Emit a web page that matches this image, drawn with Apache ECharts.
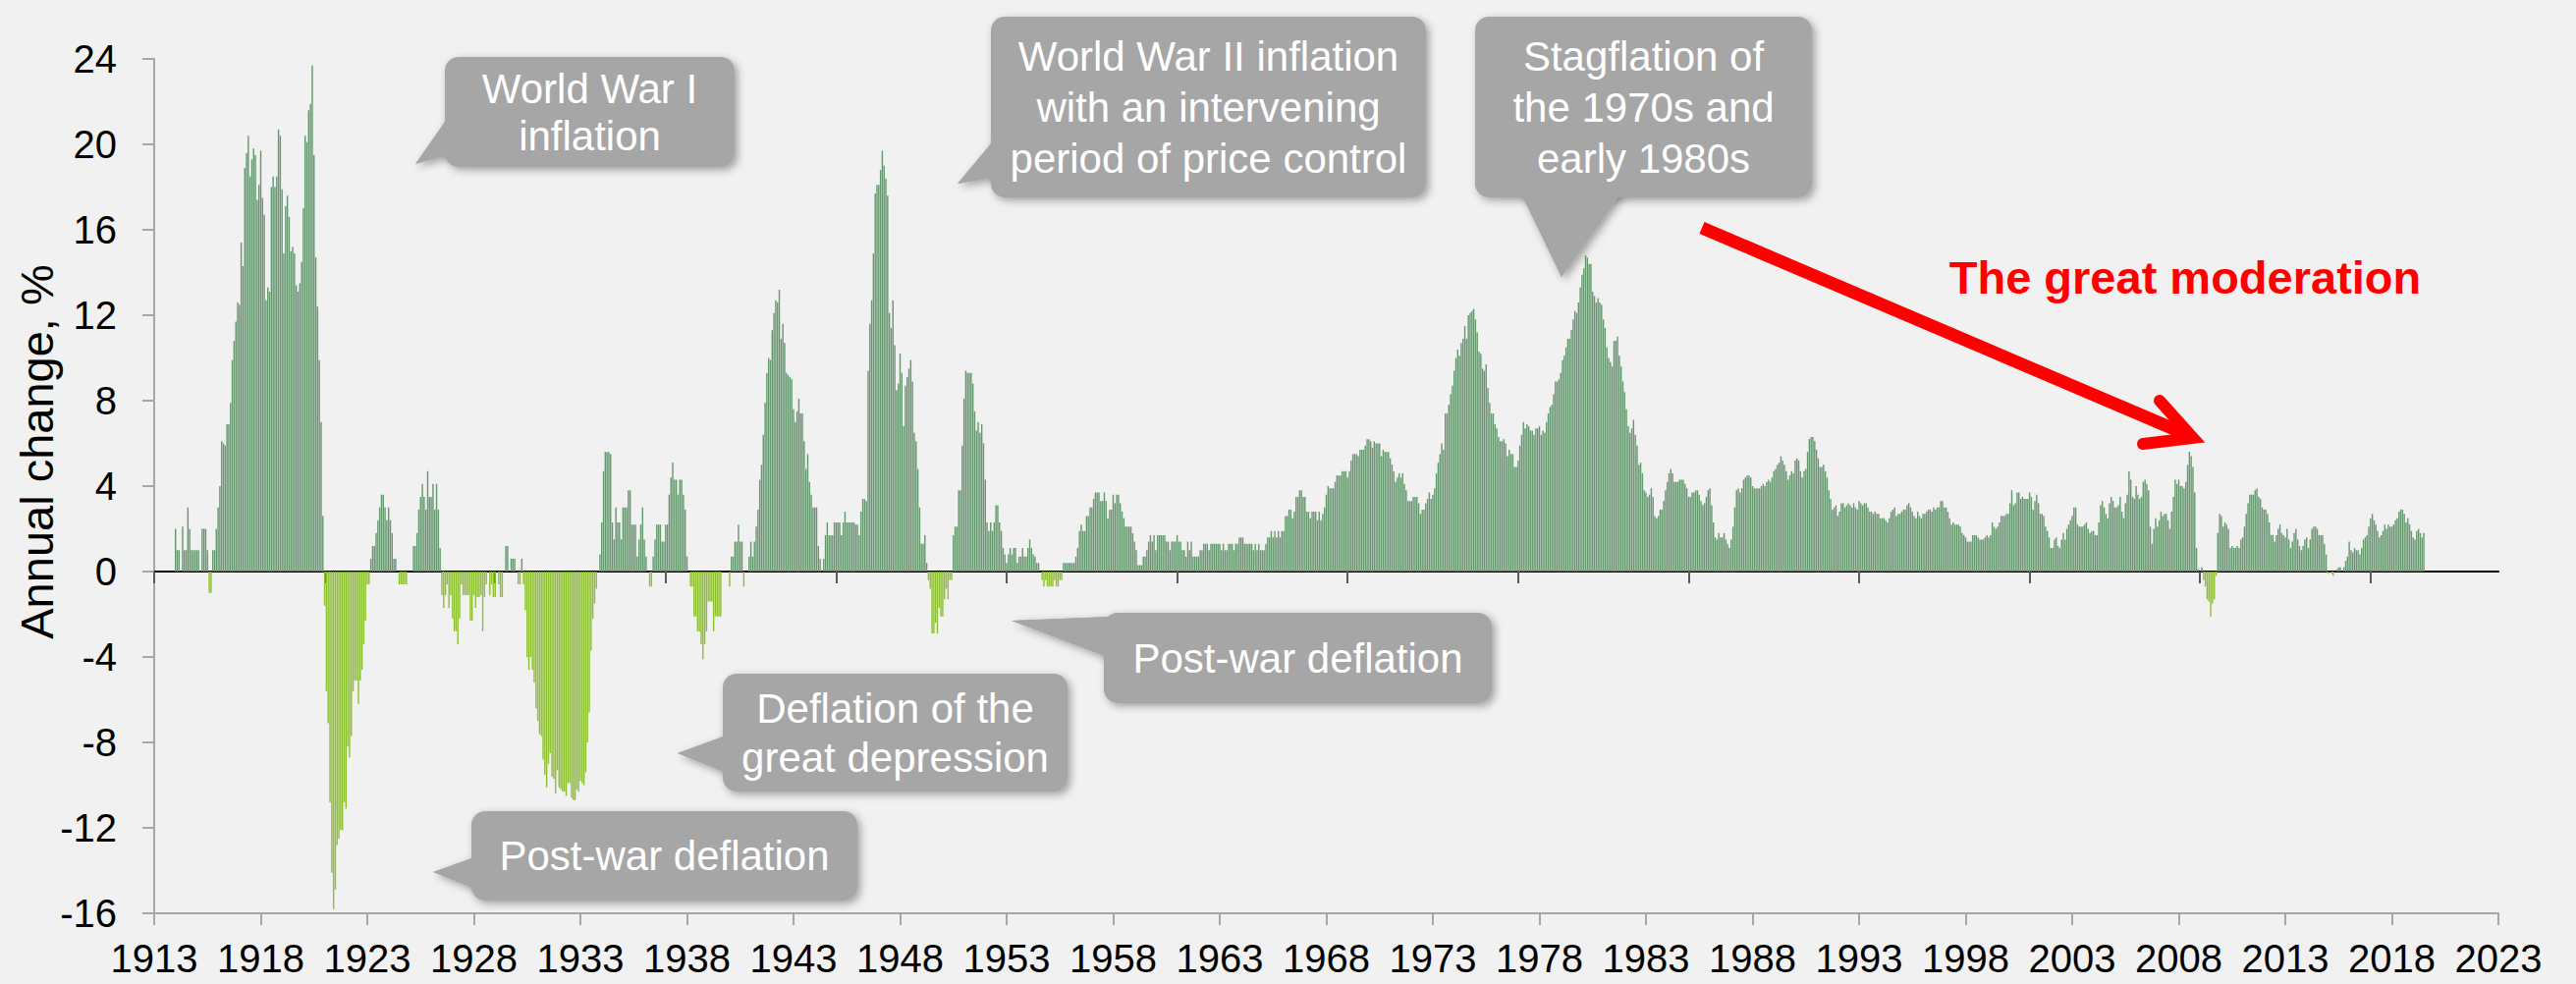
<!DOCTYPE html>
<html>
<head>
<meta charset="utf-8">
<script src="https://cdn.jsdelivr.net/npm/echarts@6/dist/echarts.min.js"></script>
<style>
html,body{margin:0;padding:0;background:#f1f1f1;}
#chart{width:2623px;height:1002px;}
</style>
</head>
<body>
<div id="chart"></div>
<script>
// US CPI, annual % change, monthly observations (Jan 1914 - Jul 2019)
const firstYear = 1914;
const inflation1910s = [
 2.0,1.0,1.0,0.0,2.1,1.0,1.0,3.0,2.0,1.0,1.0,1.0,
 1.0,1.0,0.0,2.0,2.0,2.0,1.0,-1.0,-1.0,1.0,1.0,2.0,
 3.0,4.0,6.1,6.0,5.9,6.9,6.9,7.9,9.9,10.8,11.7,12.6,
 12.5,15.4,14.3,18.9,19.6,20.4,18.5,19.3,19.8,19.5,17.4,18.1,
 19.7,17.5,16.7,12.7,13.3,13.1,18.0,18.5,18.0,18.5,20.7,20.4,
 17.9,14.9,17.1,17.6,16.6,15.0,15.2,14.9,13.4,13.1,13.5,14.5];
const inflation1920s = [
 17.0,20.4,20.1,21.6,21.9,23.7,19.5,14.7,12.4,9.9,7.0,2.6,
 -1.6,-5.6,-7.1,-10.8,-14.1,-15.8,-14.9,-12.8,-12.5,-12.1,-12.1,-10.8,
 -11.1,-8.2,-8.7,-7.7,-5.6,-5.1,-5.1,-6.2,-5.1,-4.6,-3.4,-2.3,
 -0.6,-0.6,0.6,1.2,1.2,1.8,2.4,3.0,3.6,3.6,3.0,2.4,
 3.0,2.4,1.8,0.6,0.6,0.0,-0.6,-0.6,-0.6,-0.6,-0.6,0.0,
 0.0,0.0,1.2,1.2,1.8,2.9,3.5,4.1,3.5,2.9,4.7,3.5,
 3.5,4.1,2.9,4.1,2.9,1.1,-1.1,-1.7,-1.1,-0.6,-1.7,-1.1,
 -2.2,-2.8,-2.8,-3.4,-2.2,-0.6,-1.1,-1.1,-1.1,-1.1,-2.3,-2.3,
 -1.1,-1.7,-1.2,-1.2,-1.1,-2.8,-1.2,-0.6,0.0,-1.1,-0.6,-1.2,
 -1.2,0.0,-0.6,-1.2,-1.2,0.0,1.2,1.2,0.0,0.6,0.6,0.6];
const inflation1930s = [
 0.0,-0.6,-0.6,0.6,-0.6,-1.8,-4.0,-4.6,-4.0,-4.6,-5.2,-6.4,
 -7.0,-7.6,-7.7,-8.8,-9.5,-10.1,-9.0,-8.5,-9.6,-9.7,-10.4,-9.3,
 -10.1,-10.2,-10.3,-10.3,-10.5,-9.9,-9.9,-10.6,-10.7,-10.7,-10.2,-10.3,
 -9.8,-9.9,-10.0,-9.4,-8.0,-6.6,-3.7,-2.2,-1.5,-0.8,0.0,0.8,
 2.3,4.7,5.6,5.6,5.6,5.5,2.3,1.5,3.0,2.3,2.3,1.5,
 3.0,3.0,3.0,3.8,3.8,2.2,2.2,2.2,0.7,1.5,2.2,3.0,
 1.5,0.7,0.0,-0.7,-0.7,0.7,1.5,2.2,2.2,2.2,1.4,1.4,
 2.2,2.2,3.6,4.4,5.1,4.3,4.3,3.6,4.3,4.3,3.6,2.9,
 0.7,0.0,-0.7,-0.7,-2.1,-2.1,-2.8,-2.8,-3.4,-4.1,-3.4,-2.8,
 -1.4,-1.4,-1.4,-2.8,-2.1,-2.1,-2.1,-2.1,0.0,0.0,0.0,0.0];
const inflation1940s = [
 -0.7,0.7,0.7,1.4,1.4,2.2,1.4,1.4,-0.7,0.0,0.0,0.7,
 1.4,0.7,1.4,2.1,2.9,4.3,5.0,6.4,7.9,9.3,10.0,9.9,
 11.3,12.1,12.7,12.6,13.2,10.9,11.6,10.7,9.3,9.2,9.1,9.0,
 7.6,7.0,7.5,8.1,7.4,7.4,6.1,4.8,5.5,4.2,3.6,3.0,
 3.0,3.0,1.2,0.6,0.0,0.6,1.7,2.3,1.7,1.7,1.7,2.3,
 2.3,2.3,2.3,1.7,2.3,2.8,2.3,2.3,2.3,2.3,2.3,2.2,
 2.2,1.7,2.8,3.4,3.4,3.3,9.4,11.6,12.7,14.9,17.7,18.1,
 18.1,18.8,19.7,19.0,18.4,17.6,12.1,11.4,12.7,10.6,8.5,8.8,
 10.2,9.3,6.8,8.7,9.1,9.5,9.9,8.9,6.5,6.1,4.8,3.0,
 1.3,1.3,1.7,0.4,-0.4,-0.8,-2.9,-2.9,-2.4,-2.9,-1.7,-2.1];
const inflation1950s = [
 -2.1,-1.3,-0.8,-1.3,-0.4,-0.4,1.7,2.1,2.1,3.8,3.8,5.9,
 8.1,9.4,9.3,9.3,9.3,8.8,7.5,6.6,7.0,6.5,6.9,6.0,
 4.3,2.3,1.9,2.3,1.9,2.3,3.1,3.1,2.3,1.9,1.1,0.8,
 0.4,0.8,1.1,0.8,1.1,1.1,0.4,0.7,0.7,1.1,0.7,0.7,
 1.1,1.5,1.1,0.8,0.7,0.4,0.4,0.0,-0.4,-0.7,-0.4,-0.7,
 -0.7,-0.7,-0.7,-0.4,-0.7,-0.7,-0.4,-0.4,0.4,0.4,0.4,0.4,
 0.4,0.4,0.4,0.7,1.1,1.9,2.2,1.9,1.9,2.6,2.6,3.0,
 3.0,3.4,3.7,3.7,3.7,3.3,3.3,3.7,3.3,2.5,2.9,2.9,
 3.6,3.2,3.6,3.6,3.2,2.8,2.5,2.1,2.1,2.1,2.1,1.8,
 1.4,1.0,0.3,0.3,0.3,0.7,0.7,1.0,1.4,1.7,1.4,1.7];
const inflation1960s = [
 1.0,1.7,1.7,1.7,1.7,1.7,1.4,1.4,1.0,1.4,1.4,1.4,
 1.7,1.4,1.4,1.0,1.0,0.7,1.4,1.0,1.4,0.7,0.7,0.7,
 0.7,1.0,1.0,1.3,1.3,1.3,1.0,1.3,1.3,1.3,1.3,1.3,
 1.3,1.0,1.3,1.0,1.0,1.3,1.3,1.3,1.0,1.3,1.3,1.6,
 1.6,1.6,1.3,1.3,1.3,1.3,1.3,1.0,1.3,1.0,1.3,1.0,
 1.0,1.0,1.3,1.6,1.6,1.9,1.6,1.9,1.6,1.9,1.6,1.9,
 1.9,2.6,2.6,2.9,2.9,2.5,2.8,3.5,3.5,3.8,3.8,3.5,
 3.5,2.8,2.8,2.5,2.8,2.8,2.8,2.4,2.8,2.4,2.7,3.0,
 3.6,4.0,3.9,3.9,3.9,4.2,4.5,4.5,4.5,4.7,4.7,4.7,
 4.4,4.7,5.2,5.5,5.5,5.5,5.4,5.7,5.7,5.7,5.9,6.2];
const inflation1970s = [
 6.2,6.1,5.8,6.1,6.0,6.0,6.0,5.4,5.7,5.6,5.6,5.6,
 5.3,5.0,4.7,4.2,4.4,4.6,4.4,4.6,4.1,3.8,3.3,3.3,
 3.3,3.5,3.5,3.5,3.2,2.7,2.9,2.9,3.2,3.4,3.7,3.4,
 3.6,3.9,4.6,5.1,5.5,6.0,5.7,7.4,7.4,7.8,8.3,8.7,
 9.4,10.0,10.4,10.1,10.7,10.9,11.5,10.9,12.0,12.1,12.2,12.3,
 11.8,11.2,10.3,10.2,9.5,9.4,9.7,8.6,7.9,7.4,7.4,6.9,
 6.7,6.3,6.1,6.1,6.2,6.0,5.4,5.7,5.5,5.5,4.9,4.9,
 5.2,5.9,6.4,7.0,6.7,6.9,6.8,6.6,6.6,6.4,6.7,6.7,
 6.8,6.4,6.6,6.5,7.0,7.4,7.7,7.8,8.3,8.9,8.9,9.0,
 9.3,9.9,10.1,10.5,10.9,10.9,11.3,11.8,12.2,12.1,12.6,13.3];
const inflation1980s = [
 13.9,14.2,14.8,14.7,14.4,14.4,13.1,12.9,12.6,12.8,12.6,12.5,
 11.8,11.4,10.5,10.0,9.8,9.6,10.8,10.8,11.0,10.1,9.6,8.9,
 8.4,7.6,6.8,6.5,6.7,7.1,6.4,5.9,5.0,5.1,4.6,3.8,
 3.7,3.5,3.6,3.9,3.5,2.6,2.5,2.6,2.9,2.9,3.3,3.8,
 4.2,4.6,4.8,4.6,4.2,4.2,4.2,4.3,4.3,4.3,4.1,3.9,
 3.5,3.5,3.7,3.7,3.8,3.8,3.6,3.3,3.1,3.2,3.5,3.8,
 3.9,3.1,2.3,1.6,1.5,1.8,1.6,1.6,1.8,1.5,1.3,1.1,
 1.5,2.1,3.0,3.8,3.9,3.7,3.9,4.3,4.4,4.5,4.5,4.4,
 4.0,3.9,3.9,3.9,3.9,4.0,4.1,4.0,4.2,4.3,4.2,4.4,
 4.7,4.8,5.0,5.1,5.4,5.2,5.0,4.7,4.3,4.5,4.7,4.6];
const inflation1990s = [
 5.2,5.3,5.2,4.7,4.4,4.7,4.8,5.6,6.2,6.3,6.3,6.1,
 5.7,5.3,4.9,4.9,5.0,4.7,4.4,3.8,3.4,2.9,3.0,3.1,
 2.6,2.8,3.2,3.2,3.0,3.1,3.2,3.1,3.0,3.2,3.0,2.9,
 3.3,3.2,3.1,3.2,3.2,3.0,2.8,2.8,2.7,2.8,2.7,2.7,
 2.5,2.5,2.5,2.4,2.3,2.5,2.8,2.9,3.0,2.6,2.7,2.7,
 2.8,2.9,2.9,3.1,3.2,3.0,2.8,2.6,2.5,2.8,2.6,2.5,
 2.7,2.7,2.8,2.9,2.9,2.8,3.0,2.9,3.0,3.0,3.3,3.3,
 3.0,3.0,2.8,2.5,2.2,2.3,2.2,2.2,2.2,2.1,1.8,1.7,
 1.6,1.4,1.4,1.4,1.7,1.7,1.7,1.6,1.5,1.5,1.5,1.6,
 1.7,1.6,1.7,2.3,2.1,2.0,2.1,2.3,2.6,2.6,2.6,2.7];
const inflation2000s = [
 2.7,3.2,3.8,3.1,3.2,3.7,3.7,3.4,3.5,3.4,3.4,3.4,
 3.7,3.5,2.9,3.3,3.6,3.2,2.7,2.7,2.6,2.1,1.9,1.6,
 1.1,1.1,1.5,1.6,1.2,1.1,1.5,1.8,1.5,2.0,2.2,2.4,
 2.6,3.0,3.0,2.2,2.1,2.1,2.1,2.2,2.3,2.0,1.8,1.9,
 1.9,1.7,1.7,2.3,3.1,3.3,3.0,2.7,2.5,3.2,3.5,3.3,
 3.0,3.0,3.1,3.5,2.8,2.5,3.2,3.6,4.7,4.3,3.5,3.4,
 4.0,3.6,3.4,3.5,4.2,4.3,4.1,3.8,2.1,1.3,2.0,2.5,
 2.1,2.4,2.8,2.6,2.7,2.7,2.4,2.0,2.8,3.5,4.3,4.1,
 4.3,4.0,4.0,3.9,4.2,5.0,5.6,5.4,4.9,3.7,1.1,0.1,
 0.0,0.2,-0.4,-0.7,-1.3,-1.4,-2.1,-1.5,-1.3,-0.2,1.8,2.7];
const inflation2010s = [
 2.6,2.1,2.3,2.2,2.0,1.1,1.2,1.1,1.1,1.2,1.1,1.5,
 1.6,2.1,2.7,3.2,3.6,3.6,3.6,3.8,3.9,3.5,3.4,3.0,
 2.9,2.9,2.7,2.3,1.7,1.7,1.4,1.7,2.0,2.2,1.8,1.7,
 1.6,2.0,1.5,1.1,1.4,1.8,2.0,1.5,1.2,1.0,1.2,1.5,
 1.6,1.1,1.5,2.0,2.1,2.1,2.0,1.7,1.7,1.7,1.3,0.8,
 -0.1,0.0,-0.1,-0.2,0.0,0.1,0.2,0.2,0.0,0.2,0.5,0.7,
 1.4,1.0,0.9,1.1,1.0,1.0,0.8,1.1,1.5,1.6,1.7,2.1,
 2.5,2.7,2.4,2.2,1.9,1.6,1.7,1.9,2.2,2.0,2.2,2.1,
 2.1,2.2,2.4,2.5,2.8,2.9,2.9,2.7,2.3,2.5,2.2,1.9,
 1.6,1.5,1.9,2.0,1.8,1.6,1.8];

const xAxisMin = 1913, xAxisMax = 2023, xLabelStep = 5;
const yAxisMin = -16, yAxisMax = 24, yStep = 4;
const zeroLineTicks = [1913,1921,1929,1937,1945,1953,1961,1969,1977,1985,1993,2001,2009,2017];
const yTitle = 'Annual change, %';
const moderationLabel = 'The great moderation';
const callouts = [
  {text:'World War I\ninflation', box:[453,58,295,112], tip:[423,167], base:[[458,157],[458,117]], lh:48},
  {text:'World War II inflation\nwith an intervening\nperiod of price control', box:[1009,17,443,184], tip:[975,187], base:[[1016,180],[1016,138]], lh:52},
  {text:'Stagflation of\nthe 1970s and\nearly 1980s', box:[1502,17,343,184], tip:[1590,282], base:[[1548,195],[1652,195]], lh:52},
  {text:'Post-war deflation', box:[1124,624,395,92], tip:[1030,632], base:[[1130,670],[1130,628]], lh:48},
  {text:'Deflation of the\ngreat depression', box:[736,686,351,120], tip:[690,767], base:[[742,788],[742,748]], lh:50},
  {text:'Post-war deflation', box:[480,826,393,91], tip:[441,888], base:[[486,906],[486,872]], lh:48}
];

const allValues = [].concat(inflation1910s, inflation1920s, inflation1930s, inflation1940s,
  inflation1950s, inflation1960s, inflation1970s, inflation1980s, inflation1990s,
  inflation2000s, inflation2010s);
const seriesData = allValues.map((v, i) => [firstYear + i / 12, v]);

const FONT = '"Liberation Sans", Arial, sans-serif';
const POS = '#64976e', NEG = '#8cbf2f';
const BOX = '#a6a6a6';
const SHADOW = { shadowBlur: 8, shadowColor: 'rgba(0,0,0,0.35)', shadowOffsetX: 3, shadowOffsetY: 3 };

const graphics = [];
callouts.forEach(c => {
  const pts = [c.base[0], c.tip, c.base[1]];
  graphics.push({ type: 'polygon', z: 9, shape: { points: pts }, style: Object.assign({ fill: BOX }, SHADOW) });
  graphics.push({ type: 'rect', z: 10, shape: { x: c.box[0], y: c.box[1], width: c.box[2], height: c.box[3], r: 14 },
    style: Object.assign({ fill: BOX }, SHADOW) });
  graphics.push({ type: 'polygon', z: 11, shape: { points: pts }, style: { fill: BOX } });
  graphics.push({
    type: 'text', z: 12,
    x: c.box[0] + c.box[2] / 2, y: c.box[1] + c.box[3] / 2,
    style: { text: c.text, fill: '#ffffff', font: '42px ' + FONT, align: 'center', verticalAlign: 'middle', lineHeight: c.lh }
  });
});
graphics.push({
  type: 'text', x: 37, y: 460, rotation: Math.PI / 2,
  style: { text: yTitle, fill: '#000', font: '47px ' + FONT, align: 'center', verticalAlign: 'middle' }
});
graphics.push({
  type: 'text', x: 2225, y: 282, z: 10,
  style: { text: moderationLabel, fill: '#ff0000', font: 'bold 47px ' + FONT, align: 'center', verticalAlign: 'middle' }
});
graphics.push({
  type: 'polyline', z: 10,
  shape: { points: [[1733, 232], [2228, 443]] },
  style: { stroke: '#ff0000', lineWidth: 13, lineCap: 'butt' }
});
graphics.push({
  type: 'polyline', z: 10,
  shape: { points: [[2199, 408], [2233, 446], [2182, 452]] },
  style: { stroke: '#ff0000', lineWidth: 12, lineCap: 'round', lineJoin: 'miter' }
});

const chart = echarts.init(document.getElementById('chart'), null, { renderer: 'svg' });
chart.setOption({
  backgroundColor: '#f1f1f1',
  animation: false,
  grid: { left: 157, right: 79, top: 60, bottom: 72, containLabel: false },
  xAxis: [
    {
      type: 'value', min: xAxisMin, max: xAxisMax, interval: xLabelStep, position: 'bottom',
      axisLine: { onZero: false, lineStyle: { color: '#a6a6a6', width: 2 } },
      axisTick: { show: true, length: 12, lineStyle: { color: '#a6a6a6', width: 2 } },
      axisLabel: { fontSize: 40, fontFamily: FONT, color: '#000', margin: 26, formatter: v => String(v) },
      splitLine: { show: false }
    },
    {
      type: 'value', min: xAxisMin, max: xAxisMax, position: 'bottom',
      axisLine: { onZero: true, lineStyle: { color: '#000', width: 2 } },
      axisTick: { show: true, length: 12, customValues: zeroLineTicks, lineStyle: { color: '#595959', width: 2 } },
      axisLabel: { show: false },
      splitLine: { show: false }
    }
  ],
  yAxis: {
    type: 'value', min: yAxisMin, max: yAxisMax, interval: yStep,
    axisLine: { show: true, lineStyle: { color: '#a6a6a6', width: 2 } },
    axisTick: { show: true, length: 12, lineStyle: { color: '#a6a6a6', width: 2 } },
    axisLabel: { fontSize: 40, fontFamily: FONT, color: '#000', margin: 38 },
    splitLine: { show: false }
  },
  series: [{
    type: 'bar', xAxisIndex: 0, yAxisIndex: 0,
    data: seriesData,
    barWidth: 1.4,
    itemStyle: { color: p => (p.value[1] < 0 ? NEG : POS) },
    emphasis: { disabled: true }
  }],
  graphic: graphics
});
</script>
</body>
</html>
